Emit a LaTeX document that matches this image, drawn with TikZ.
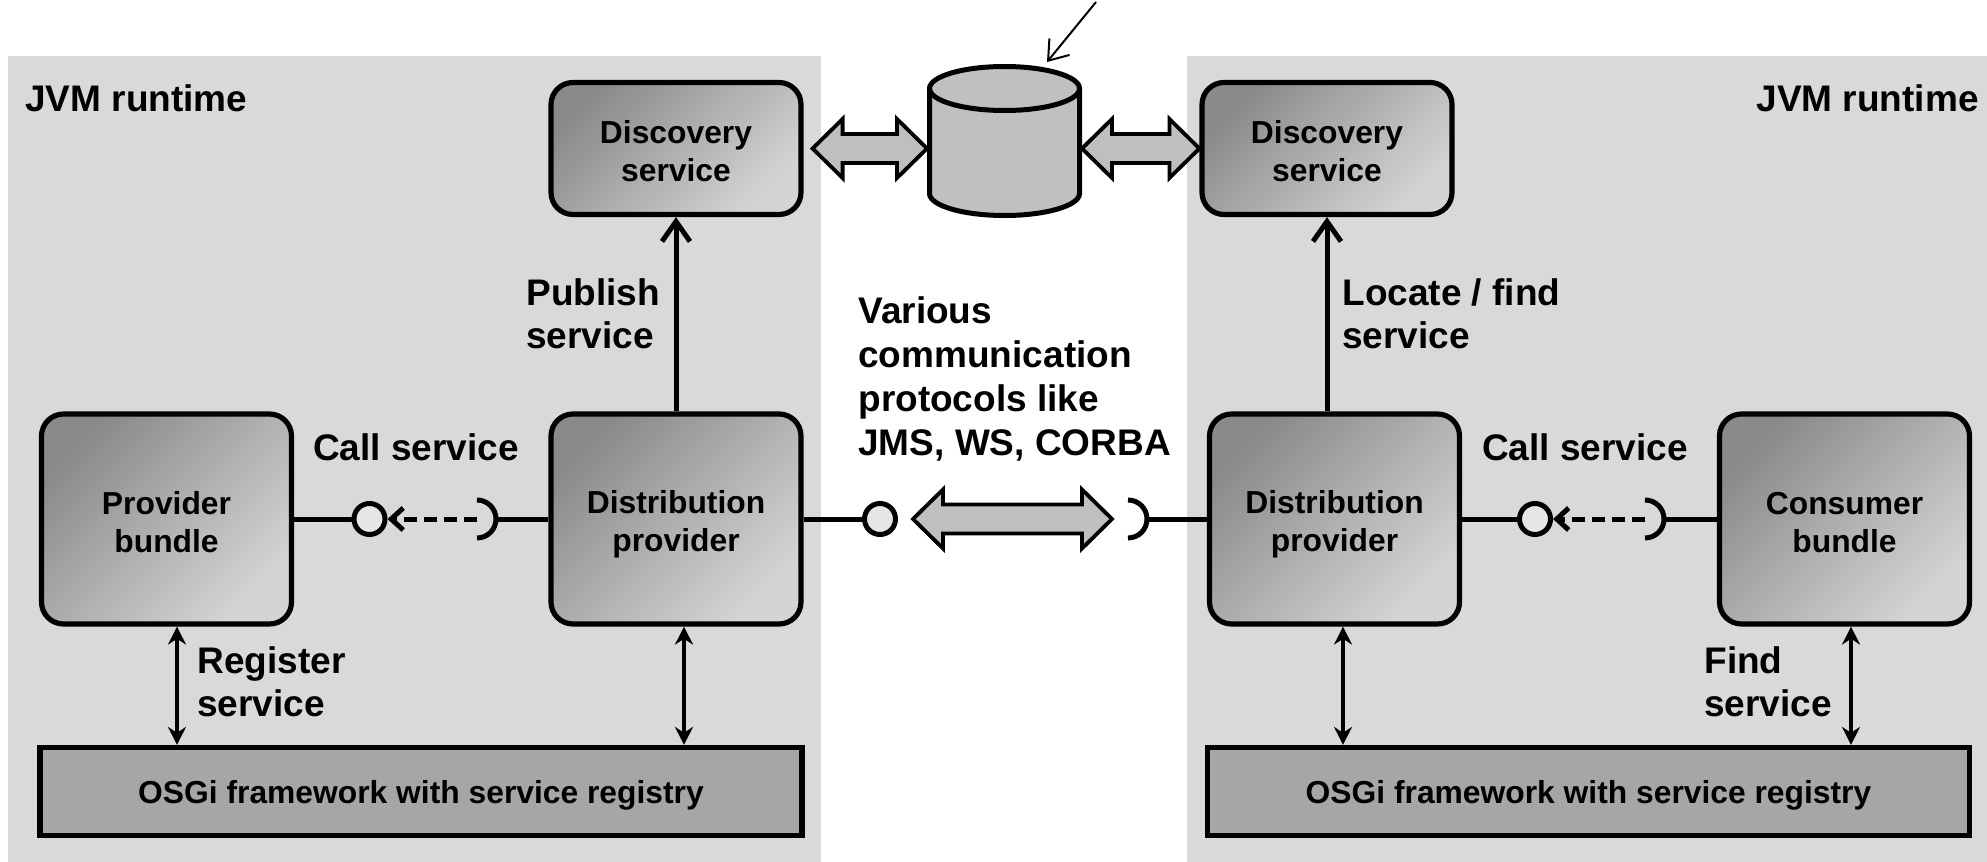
\documentclass[tikz,border=0pt]{standalone}
\usepackage{fontspec}
\setmainfont{Liberation Sans}
\usetikzlibrary{arrows.meta,calc}
\definecolor{panel}{HTML}{D9D9D9}
\definecolor{gdark}{HTML}{8A8A8A}
\definecolor{glight}{HTML}{D4D4D4}
\definecolor{osgi}{HTML}{A6A6A6}
\definecolor{cylfill}{HTML}{C0C0C0}
\definecolor{arrfill}{HTML}{BFBFBF}
\definecolor{lolli}{HTML}{E6E6E6}
\newcommand{\dgboxfont}{\fontsize{15.9pt}{19pt}\selectfont\bfseries}
\newcommand{\dglblfont}{\fontsize{18.5pt}{21.5pt}\selectfont\bfseries}
\newcommand{\dgprotofont}{\fontsize{18.5pt}{22pt}\selectfont\bfseries}
\newcommand{\dgup}{\rule{0pt}{14.2pt}}
\newcommand{\dgupp}{\rule{0pt}{16.8pt}}
\newcommand{\fatarrow}[2]{%
  \draw[fatarr] let \p1=#1, \p2=#2 in
    (\x1,\y1) -- (\x1+15pt,\y1+14.75pt) -- (\x1+15pt,\y1+7.25pt)
    -- (\x2-15pt,\y1+7.25pt) -- (\x2-15pt,\y1+14.75pt) -- (\x2,\y1)
    -- (\x2-15pt,\y1-14.75pt) -- (\x2-15pt,\y1-7.25pt)
    -- (\x1+15pt,\y1-7.25pt) -- (\x1+15pt,\y1-14.75pt) -- cycle;}
\begin{document}
\begin{tikzpicture}[x=0.5pt,y=-0.5pt,
  gbox/.style={draw, line width=2.6pt, rounded corners=11pt,
    top color=gdark, bottom color=glight, shading angle=45,
    align=center, inner sep=0pt, font=\dgboxfont},
  dsbox/.style={gbox, minimum width=125pt, minimum height=66pt},
  pbox/.style={gbox, minimum width=125pt, minimum height=105pt},
  obox/.style={draw, line width=2.6pt, fill=osgi, minimum width=381pt,
    minimum height=44pt, inner sep=0pt, text depth=0pt, font=\dgboxfont},
  lbl/.style={inner sep=0pt, font=\dglblfont},
  lol/.style={circle, draw, line width=2.5pt, fill=lolli, minimum size=15.5pt, inner sep=0pt},
  conn/.style={line width=2.5pt},
  uparr/.style={line width=2.5pt, -{Straight Barb[length=10pt,width=14pt]}},
  dblarr/.style={line width=2.2pt, {Stealth[length=9pt,width=9pt]}-{Stealth[length=9pt,width=9pt]}},
  annarr/.style={line width=1pt, -{Straight Barb[length=9pt,width=13pt]}},
  dasharr/.style={line width=2.5pt, dash pattern=on 6.5pt off 3.5pt, -{Straight Barb[length=6pt,width=11pt]}},
  fatarr/.style={draw, fill=arrfill, line width=1.9pt},
  cylstyle/.style={line width=2.5pt}
]
\useasboundingbox (0,0) rectangle (1987,862);
% panels
\fill[panel] (8,56) rectangle (821,862);
\fill[panel] (1187,56) rectangle (1987,862);
\node[lbl, anchor=base west] (jvmL) at (25,111) {JVM runtime};
\node[lbl, anchor=base east] (jvmR) at (1979,111) {JVM runtime};

% boxes
\node[dsbox] (dsL) at (676,148.5) {\dgup Discovery\\service};
\node[dsbox] (dsR) at (1327,148.5) {\dgup Discovery\\service};
\node[pbox] (pb) at (166.5,519) {\dgup Provider\\bundle};
\node[pbox] (dpL) at (676,519) {\dgupp Distribution\\provider};
\node[pbox] (dpR) at (1334.5,519) {\dgupp Distribution\\provider};
\node[pbox] (cb) at (1844.5,519) {\dgup Consumer\\bundle};
\node[obox] (osL) at (421,791.5) {OSGi framework with service registry};
\node[obox] (osR) at (1588.5,791.5) {OSGi framework with service registry};

% cylinder
\filldraw[cylstyle, fill=cylfill] (929.5,88.5) -- (929.5,193.5)
  arc[start angle=180, end angle=360, x radius=37.5pt, y radius=11pt]
  -- (1079.5,88.5)
  arc[start angle=0, end angle=180, x radius=37.5pt, y radius=11pt] -- cycle;
\draw[cylstyle] (929.5,88.5) arc[start angle=180, end angle=360, x radius=37.5pt, y radius=11pt];
\coordinate (cylW) at (927,148.5);
\coordinate (cylE) at (1082,148.5);
\coordinate (cylTop) at (1047,62);
\coordinate (annot) at (1096,2);
\draw[annarr] (annot) -- (cylTop);

% fat arrows
\coordinate (dsLa) at ($(dsL.east)+(9,0)$);
\fatarrow{(dsLa)}{(cylW)}
\fatarrow{(cylE)}{(dsR.west)}
\coordinate (mA) at (913,519);
\coordinate (mB) at (1112,519);
\fatarrow{(mA)}{(mB)}

% labels
\node[lbl, anchor=north west, align=left] (pubL) at (526,278.5) {Publish\\service};
\node[lbl, anchor=north west, align=left] (locL) at (1342,278.5) {Locate / find\\service};
\node[lbl, anchor=north west, align=left, font=\dgprotofont] (proto) at (858,296.5) {Various\\communication\\protocols like\\JMS, WS, CORBA};
\node[lbl, anchor=base] (callL) at (416,460) {Call service};
\node[lbl, anchor=base] (callR) at (1585,460) {Call service};
\node[lbl, anchor=north west, align=left] (regL) at (197,646.5) {Register\\service};
\node[lbl, anchor=north west, align=left] (findL) at (1704,646.5) {Find\\service};

% vertical arrows
\draw[uparr] (dpL.north) -- (dsL.south);
\draw[uparr] (dsR.south |- dpR.north) -- (dsR.south);
\coordinate (v1) at ([xshift=5.25pt]pb.south);
\coordinate (v2) at ([xshift=4pt]dpL.south);
\coordinate (v3) at ([xshift=4.25pt]dpR.south);
\coordinate (v4) at ([xshift=3.25pt]cb.south);
\draw[dblarr] (v1) -- (v1 |- osL.north);
\draw[dblarr] (v2) -- (v2 |- osL.north);
\draw[dblarr] (v3) -- (v3 |- osR.north);
\draw[dblarr] (v4) -- (v4 |- osR.north);

% lollipops and sockets
\node[lol] (cL) at (369.5,519) {};
\coordinate (sL) at (477,519);
\draw[conn] (pb.east) -- (cL);
\draw[dasharr] (sL) -- (cL);
\draw[conn] (sL) ++(0,-19) arc[start angle=90, end angle=-90, radius=9.5pt];
\draw[conn] ($(sL)+(19,0)$) -- (dpL.west);

\node[lol] (cM) at (880,519) {};
\coordinate (sM) at (1128,519);
\draw[conn] (dpL.east) -- (cM);
\draw[conn] (sM) ++(0,-19) arc[start angle=90, end angle=-90, radius=9.5pt];
\draw[conn] ($(sM)+(19,0)$) -- (dpR.west);

\node[lol] (cR) at (1535,519) {};
\coordinate (sR) at (1645,519);
\draw[conn] (dpR.east) -- (cR);
\draw[dasharr] (sR) -- (cR);
\draw[conn] (sR) ++(0,-19) arc[start angle=90, end angle=-90, radius=9.5pt];
\draw[conn] ($(sR)+(19,0)$) -- (cb.west);
\end{tikzpicture}
\end{document}
